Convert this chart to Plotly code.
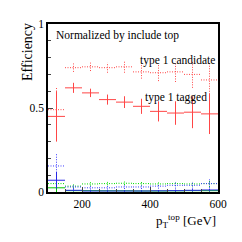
import plotly.graph_objects as go

bin_lo = [100, 150, 200, 250, 300, 350, 400, 450, 500, 550]
bin_hi = [150, 200, 250, 300, 350, 400, 450, 500, 550, 600]

t1_cand = [0.49, 0.74, 0.745, 0.74, 0.745, 0.715, 0.71, 0.715, 0.70, 0.667]
t1_cand_err = [0.13, 0.025, 0.025, 0.03, 0.035, 0.04, 0.05, 0.06, 0.08, 0.10]
t1_tag = [0.45, 0.62, 0.59, 0.55, 0.535, 0.51, 0.48, 0.47, 0.475, 0.465]
t1_tag_err = [0.15, 0.03, 0.025, 0.03, 0.035, 0.045, 0.06, 0.07, 0.095, 0.12]

b_cand = [0.155, 0.03, 0.025, 0.025, 0.03, 0.03, 0.035, 0.04, 0.04, 0.05]
b_cand_err = [0.07, 0.012, 0.01, 0.01, 0.012, 0.012, 0.015, 0.02, 0.02, 0.025]
b_tag = [0.07, 0.01, 0.006, 0.006, 0.006, 0.006, 0.007, 0.008, 0.01, 0.012]
b_tag_err = [0.05, 0.006, 0.004, 0.004, 0.004, 0.004, 0.005, 0.006, 0.007, 0.008]

g_cand = [0.05, 0.035, 0.048, 0.05, 0.052, 0.05, 0.048, 0.05, 0.048, 0.05]
g_cand_err = [0.03, 0.01, 0.01, 0.01, 0.01, 0.012, 0.012, 0.015, 0.015, 0.02]
g_tag = [0.025, 0.008, 0.008, 0.007, 0.007, 0.006, 0.006, 0.007, 0.008, 0.008]
g_tag_err = [0.03, 0.005, 0.004, 0.004, 0.004, 0.004, 0.004, 0.005, 0.005, 0.006]

x_ticks = [200, 400, 600]
y_ticks = [0, 0.5, 1]
y_tick_text = ["0", "0.5", "1"]

fig = go.Figure()


def add_hist(vals, errs, color, dash):
    xs, ys = [], []
    for lo, hi, v, e in zip(bin_lo, bin_hi, vals, errs):
        c = (lo + hi) / 2
        xs += [lo, hi, None, c, c, None]
        ys += [v, v, None, max(v - e, 0), v + e, None]
    fig.add_trace(go.Scatter(x=xs, y=ys, mode="lines",
                             line=dict(color=color, width=1, dash=dash),
                             hoverinfo="skip", showlegend=False,
                             connectgaps=False))


DOT = "1px,1.5px"
add_hist(g_cand, g_cand_err, "rgb(0,220,0)", DOT)
add_hist(g_tag, g_tag_err, "rgb(0,200,0)", "solid")
add_hist(b_cand, b_cand_err, "rgb(60,60,255)", DOT)
add_hist(b_tag, b_tag_err, "rgb(40,40,230)", "solid")
add_hist(t1_cand, t1_cand_err, "rgb(255,70,70)", DOT)
add_hist(t1_tag, t1_tag_err, "rgb(255,70,70)", "solid")

font = "Liberation Serif"
fig.update_layout(
    width=242, height=242,
    margin=dict(l=48, r=24, t=24, b=50),
    paper_bgcolor="white", plot_bgcolor="white",
    showlegend=False,
    font=dict(family=font, size=11.5, color="black"),
    xaxis=dict(range=[100, 600], tickvals=x_ticks, ticks="inside", ticklen=5,
               tickwidth=1, showgrid=False, zeroline=False, showline=True,
               linecolor="black", linewidth=1.5, mirror=True,
               tickfont=dict(family=font, size=11.5),
               minor=dict(tickvals=[100, 150, 250, 300, 350, 450, 500, 550], ticks="inside", ticklen=3)),
    yaxis=dict(range=[0, 1], tickvals=y_ticks, ticktext=y_tick_text, ticks="inside",
               ticklen=5, tickwidth=1, showgrid=False, zeroline=False, showline=True,
               linecolor="black", linewidth=1.5, mirror=True,
               tickfont=dict(family=font, size=11.5),
               minor=dict(dtick=0.1, ticks="inside", ticklen=3)),
    annotations=[
        dict(text="Normalized by include top", xref="paper", yref="paper",
             x=0.035, y=0.985, xanchor="left", yanchor="top", showarrow=False,
             font=dict(family=font, size=11.5)),
        dict(text="type 1 candidate", xref="paper", yref="paper",
             x=0.995, y=0.785, xanchor="right", yanchor="middle", showarrow=False,
             font=dict(family=font, size=11.5)),
        dict(text="type 1 tagged", xref="paper", yref="paper",
             x=0.945, y=0.56, xanchor="right", yanchor="middle", showarrow=False,
             font=dict(family=font, size=11.5)),
        dict(text="Efficiency", xref="paper", yref="paper", textangle=-90,
             x=-0.124, y=0.833, xanchor="center", yanchor="middle", showarrow=False,
             font=dict(family=font, size=14)),
        dict(text="p<sub>T</sub><sup>top</sup> [GeV]", xref="paper", yref="paper",
             x=1.0, y=-0.11, xanchor="right", yanchor="top", showarrow=False,
             font=dict(family=font, size=13)),
    ],
)

fig.write_html("out.html", config={"displayModeBar": False},
               post_script="document.body.style.margin='0px';")
